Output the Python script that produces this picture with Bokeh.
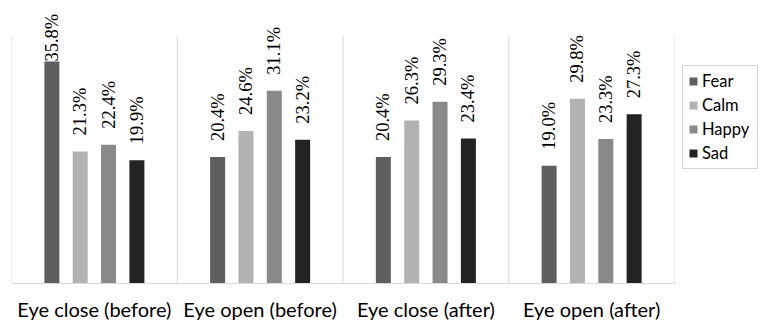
import math
from bokeh.plotting import figure
from bokeh.models import (ColumnDataSource, Range1d, FixedTicker, LabelSet,
                          Legend, LegendItem)
from bokeh.embed import file_html
from bokeh.resources import INLINE

# ---- data ----
groups = ["Eye close (before)", "Eye open (before)", "Eye close (after)", "Eye open (after)"]
series = ["Fear", "Calm", "Happy", "Sad"]
fear = [35.8, 20.4, 20.4, 19.0]
calm = [21.3, 24.6, 26.3, 29.8]
happy = [22.4, 31.1, 29.3, 23.3]
sad = [19.9, 23.2, 23.4, 27.3]
values = [fear, calm, happy, sad]
colors = ["#5f5f5f", "#b2b2b2", "#898989", "#232323"]

FONT = "Lato"
Y_MAX = 45.65
FRAME_H = 283
PX_PER_UNIT = FRAME_H / Y_MAX
LABEL_OFF = 16
LABEL_LEN = 52

p = figure(frame_width=663, frame_height=FRAME_H, width=762, height=322,
           output_backend="svg", toolbar_location=None,
           x_range=Range1d(0, 4), y_range=Range1d(0, Y_MAX),
           y_axis_location=None, min_border_left=11, min_border_right=0,
           min_border_top=0, min_border_bottom=39)
p.outline_line_color = None
p.xgrid.visible = False
p.ygrid.visible = False
p.background_fill_color = "white"
p.border_fill_color = "white"

# group separators
bounds = list(range(len(groups) + 1))
p.segment(x0=bounds, y0=[0] * len(bounds), x1=bounds, y1=[40] * len(bounds),
          line_color="#d9d9d9", line_width=1)

pitch = 0.171
bw = 0.0905
items = []
for s, (name, vals, col) in enumerate(zip(series, values, colors)):
    xs = [g + 0.5 + (s - 1.5) * pitch for g in range(len(groups))]
    offs = []
    for v in vals:
        room = FRAME_H - v * PX_PER_UNIT - LABEL_LEN - 10
        offs.append(max(0, min(LABEL_OFF, room)))
    src = ColumnDataSource(dict(x=xs, top=vals,
                                lab=[f"{v:.1f}%" for v in vals], off=offs))
    r = p.vbar(x="x", top="top", width=bw, bottom=0, source=src,
               fill_color=col, line_color=None)
    items.append(LegendItem(label=name, renderers=[r]))
    lbl = LabelSet(x="x", y="top", text="lab", source=src, angle=math.pi / 2,
                   y_offset="off", text_align="left", text_baseline="middle",
                   text_font=FONT, text_font_size="18.5px", text_color="#000000")
    p.add_layout(lbl)

ax = p.xaxis[0]
ax.ticker = FixedTicker(ticks=[g + 0.5 for g in range(len(groups))])
ax.major_label_overrides = {g + 0.5: name for g, name in enumerate(groups)}
ax.major_label_text_font = FONT
ax.major_label_text_font_size = "20px"
ax.major_label_text_color = "#000000"
ax.major_label_standoff = 13
ax.major_tick_in = 0
ax.major_tick_out = 0
ax.axis_line_color = "#d9d9d9"
ax.major_tick_line_color = None
ax.minor_tick_line_color = None

legend = Legend(items=items, location=(8, 114), orientation="vertical",
                label_text_font=FONT, label_text_font_size="16.5px",
                label_text_color="#000000", glyph_width=10, glyph_height=10,
                label_height=18, label_width=50, label_standoff=4, spacing=4,
                padding=5, margin=8, border_line_color="#a6a6a6",
                border_line_width=1, background_fill_alpha=1)
p.add_layout(legend, "right")

open("out.html", "w").write(file_html(p, INLINE))
